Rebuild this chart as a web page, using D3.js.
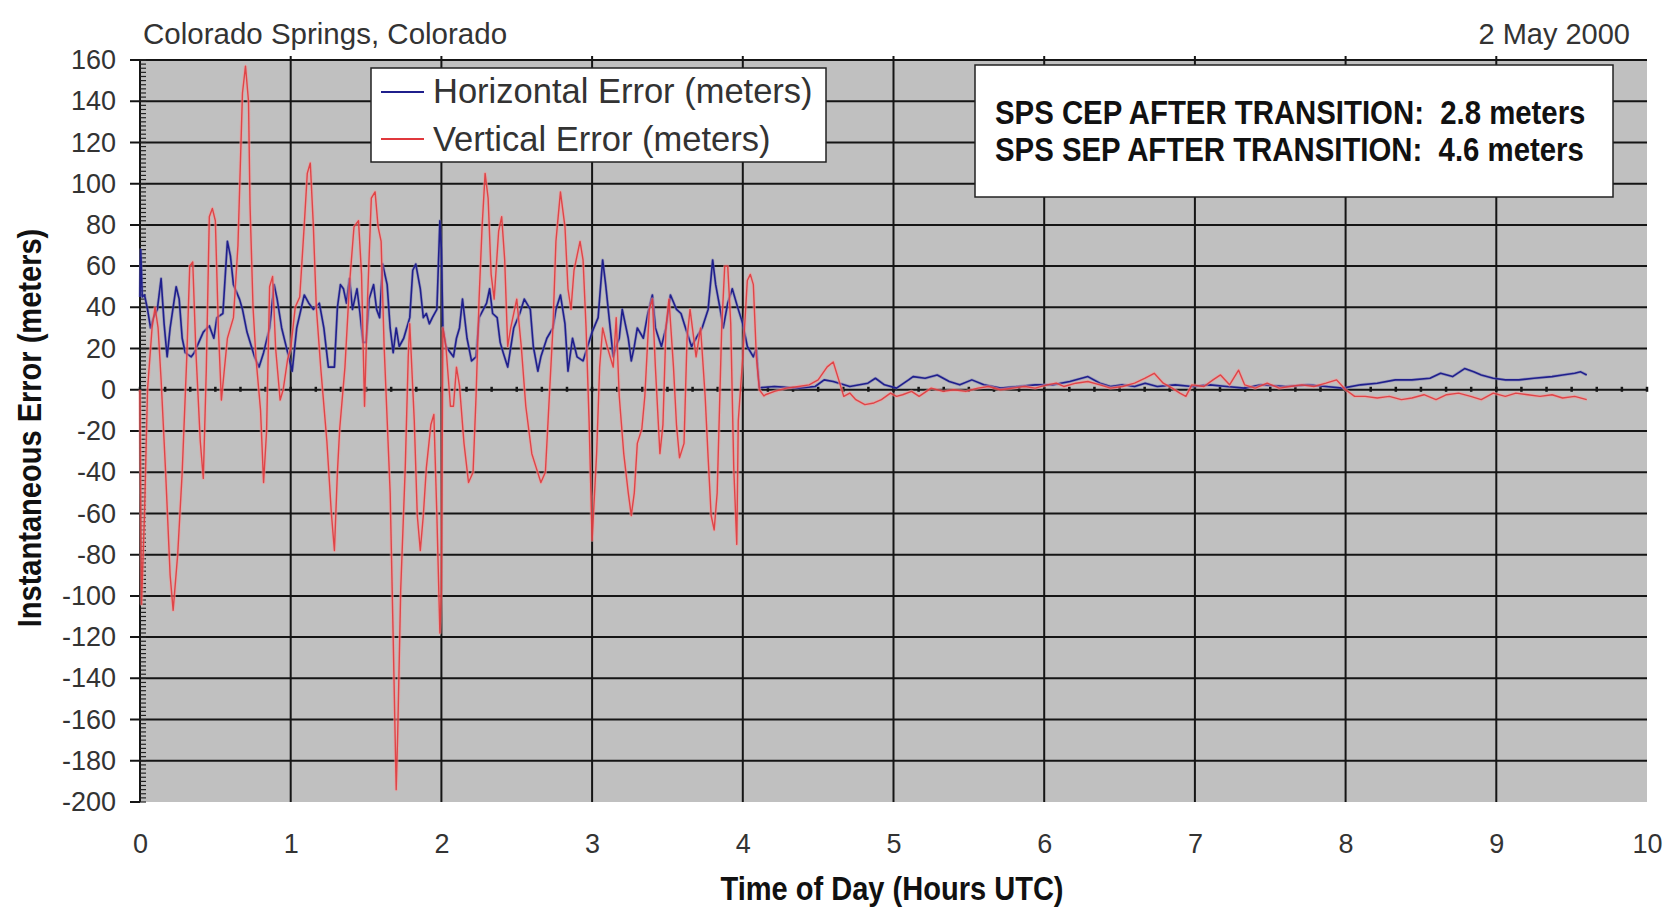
<!DOCTYPE html>
<html>
<head>
<meta charset="utf-8">
<script src="https://cdn.jsdelivr.net/npm/d3@7"></script>
<style>
  body { margin: 0; background: #fff; }
  svg { display: block; }
  text { font-family: "Liberation Sans", Arial, sans-serif; fill: #333; }
  .narrow { font-weight: bold; fill: #111; }
</style>
</head>
<body>
<div id="chart"></div>
<script>
// tick values
const hours = [0, 1, 2, 3, 4, 5, 6, 7, 8, 9, 10];
const errTicks = [160, 140, 120, 100, 80, 60, 40, 20, 0, -20, -40, -60, -80, -100, -120, -140, -160, -180, -200];

// [hour UTC, meters] - horizontal error (blue)
const horizontal = [
  [0, 45], [0.005, 68], [0.015, 45], [0.03, 46], [0.05, 39], [0.07, 30], [0.09, 35], [0.115, 39], [0.14, 54],
  [0.16, 32], [0.18, 16], [0.20, 30], [0.24, 50], [0.26, 44], [0.28, 25], [0.30, 18], [0.34, 16], [0.36, 18],
  [0.39, 23], [0.42, 28], [0.46, 31], [0.49, 25], [0.51, 35], [0.55, 37], [0.58, 72], [0.60, 65], [0.62, 51],
  [0.66, 44], [0.68, 39], [0.71, 28], [0.76, 16], [0.79, 11], [0.82, 18], [0.86, 30], [0.89, 51], [0.91, 44],
  [0.94, 30], [0.98, 18], [1.01, 9], [1.04, 30], [1.09, 46], [1.12, 42], [1.15, 39], [1.19, 42], [1.22, 30],
  [1.25, 11], [1.29, 11], [1.31, 40], [1.33, 51], [1.35, 49], [1.37, 42], [1.39, 54], [1.41, 39], [1.44, 49],
  [1.46, 37], [1.48, 23], [1.50, 23], [1.52, 44], [1.55, 51], [1.57, 39], [1.59, 35], [1.61, 61], [1.64, 51],
  [1.66, 30], [1.68, 18], [1.70, 30], [1.72, 21], [1.75, 25], [1.77, 30], [1.79, 35], [1.81, 58], [1.83, 61],
  [1.86, 49], [1.88, 35], [1.90, 37], [1.92, 32], [1.94, 35], [1.97, 39], [1.99, 82], [2.0, 68], [2.01, 30],
  [2.03, 21], [2.06, 18], [2.08, 16], [2.10, 25], [2.12, 30], [2.14, 44], [2.17, 25], [2.20, 14], [2.23, 16],
  [2.25, 35], [2.30, 42], [2.32, 49], [2.34, 37], [2.37, 35], [2.39, 23], [2.41, 18], [2.44, 11], [2.48, 30],
  [2.52, 37], [2.55, 44], [2.59, 39], [2.61, 21], [2.64, 9], [2.66, 16], [2.70, 25], [2.74, 30], [2.76, 39],
  [2.79, 46], [2.82, 32], [2.84, 9], [2.87, 25], [2.90, 16], [2.94, 14], [2.97, 21], [3.0, 28], [3.04, 35],
  [3.07, 63], [3.09, 51], [3.12, 30], [3.14, 16], [3.16, 21], [3.18, 25], [3.20, 39], [3.24, 25], [3.26, 14],
  [3.28, 21], [3.30, 30], [3.34, 25], [3.37, 37], [3.40, 46], [3.42, 30], [3.46, 21], [3.49, 30], [3.52, 46],
  [3.56, 39], [3.59, 37], [3.62, 30], [3.66, 21], [3.69, 25], [3.73, 30], [3.77, 39], [3.80, 63], [3.82, 51],
  [3.85, 39], [3.87, 30], [3.90, 42], [3.93, 49], [3.97, 39], [4.0, 32], [4.03, 21], [4.07, 16], [4.09, 20],
  [4.10, 9], [4.11, 1],
  [4.21, 1.6], [4.37, 0.8], [4.48, 1.6], [4.54, 4.8], [4.60, 4.0], [4.71, 1.6], [4.83, 3.2], [4.88, 5.6],
  [4.94, 2.4], [5.02, 0.8], [5.10, 4.8], [5.13, 6.4], [5.21, 5.6], [5.29, 7.2], [5.37, 4.0], [5.44, 2.4],
  [5.52, 4.8], [5.60, 2.4], [5.71, 0.8], [5.83, 1.6], [5.94, 2.4], [6.06, 2.4], [6.17, 4.0], [6.29, 6.4],
  [6.37, 3.2], [6.44, 1.6], [6.52, 2.4], [6.60, 1.6], [6.67, 3.2], [6.75, 1.6], [6.87, 2.4], [6.98, 1.6],
  [7.10, 2.4], [7.21, 1.6], [7.33, 0.8], [7.44, 2.4], [7.60, 1.6], [7.75, 2.4], [7.87, 1.6], [7.98, 0.8],
  [8.10, 2.4], [8.21, 3.2], [8.33, 4.8], [8.44, 4.8], [8.56, 5.6], [8.63, 8.0], [8.71, 6.4], [8.79, 10.3],
  [8.85, 8.7], [8.90, 7.2], [8.98, 5.6], [9.06, 4.8], [9.15, 4.8], [9.25, 5.6], [9.37, 6.4], [9.44, 7.2],
  [9.52, 8.0], [9.56, 8.7], [9.60, 7.2]
];

// [hour UTC, meters] - vertical error (red)
const vertical = [
  [0, 0], [0.01, -104], [0.03, -60], [0.05, 0], [0.08, 30], [0.10, 40], [0.12, 30], [0.14, 5], [0.17, -40],
  [0.20, -90], [0.22, -107], [0.25, -80], [0.28, -40], [0.31, 15], [0.33, 60], [0.35, 62], [0.37, 20],
  [0.40, -25], [0.42, -43], [0.44, 10], [0.46, 84], [0.48, 88], [0.50, 82], [0.52, 30], [0.54, -5], [0.56, 10],
  [0.58, 25], [0.62, 35], [0.65, 70], [0.68, 144], [0.70, 157], [0.72, 140], [0.73, 90], [0.75, 40],
  [0.77, 15], [0.80, -10], [0.82, -45], [0.84, -20], [0.86, 50], [0.88, 55], [0.90, 20], [0.93, -5], [0.95, 0],
  [0.98, 15], [1.00, 20], [1.03, 40], [1.06, 45], [1.09, 80], [1.11, 105], [1.13, 110], [1.15, 80], [1.17, 40],
  [1.20, 10], [1.24, -25], [1.27, -60], [1.29, -78], [1.31, -40], [1.325, -19], [1.36, 11], [1.39, 51],
  [1.42, 79], [1.45, 82], [1.47, 56], [1.49, -8], [1.51, 44], [1.535, 93], [1.56, 96], [1.58, 79], [1.60, 72],
  [1.62, 21], [1.66, -50], [1.68, -120], [1.70, -194], [1.71, -167], [1.73, -97], [1.76, -38], [1.78, 16],
  [1.79, 32], [1.82, -15], [1.84, -61], [1.86, -78], [1.88, -61], [1.90, -38], [1.93, -17], [1.95, -12],
  [1.97, -61], [1.99, -118], [2.0, -97], [2.01, 30], [2.03, 21], [2.06, -8], [2.08, -8], [2.10, 11], [2.12, 2],
  [2.15, -26], [2.18, -45], [2.21, -40], [2.23, -3], [2.25, 44], [2.27, 79], [2.29, 105], [2.31, 93],
  [2.33, 56], [2.35, 44], [2.38, 77], [2.40, 84], [2.42, 63], [2.44, 21], [2.46, 30], [2.50, 44], [2.53, 21],
  [2.56, -8], [2.60, -31], [2.63, -38], [2.66, -45], [2.69, -40], [2.71, -12], [2.74, 30], [2.76, 72],
  [2.79, 96], [2.82, 79], [2.84, 49], [2.86, 39], [2.88, 58], [2.92, 72], [2.94, 63], [2.96, 30], [2.98, -15],
  [3.0, -73], [3.03, -31], [3.05, 11], [3.07, 30], [3.10, 21], [3.14, 11], [3.16, 35], [3.18, -3], [3.21, -31],
  [3.24, -50], [3.26, -61], [3.28, -50], [3.30, -26], [3.33, -19], [3.35, -3], [3.38, 39], [3.40, 44],
  [3.42, 11], [3.45, -31], [3.47, -17], [3.49, 30], [3.51, 44], [3.54, 11], [3.56, -17], [3.58, -33],
  [3.61, -26], [3.63, 25], [3.65, 39], [3.69, 16], [3.72, 30], [3.75, -3], [3.77, -33], [3.79, -61],
  [3.81, -68], [3.83, -50], [3.86, 30], [3.88, 60], [3.90, 60], [3.92, 32], [3.94, -38], [3.96, -75],
  [3.97, -15], [4.0, 16], [4.03, 53], [4.05, 56], [4.07, 51], [4.09, 16], [4.11, 0], [4.14, -3],
  [4.15, -2.4], [4.21, -0.8], [4.29, 0.8], [4.37, 1.6], [4.44, 2.4], [4.50, 4.8], [4.56, 11.1], [4.60, 13.5],
  [4.63, 6.4], [4.67, -3.2], [4.71, -1.6], [4.75, -4.8], [4.81, -7.2], [4.87, -6.4], [4.92, -4.8], [4.98, -1.6],
  [5.02, -3.2], [5.06, -2.4], [5.12, -0.8], [5.17, -3.2], [5.25, 0.8], [5.33, -0.8], [5.40, 0], [5.48, -0.8],
  [5.56, 0.8], [5.63, 1.6], [5.71, 0], [5.79, 0.8], [5.87, 1.6], [5.94, 0.8], [6.02, 2.4], [6.08, 3.2],
  [6.13, 1.6], [6.21, 3.2], [6.29, 4.0], [6.37, 2.4], [6.44, 0.8], [6.52, 1.6], [6.60, 3.2], [6.67, 5.6],
  [6.73, 8.0], [6.79, 3.2], [6.85, 0.8], [6.90, -1.6], [6.94, -3.2], [6.98, 2.4], [7.06, 1.6], [7.12, 4.8],
  [7.17, 7.2], [7.23, 2.4], [7.29, 9.5], [7.33, 2.4], [7.40, 0.8], [7.48, 3.2], [7.56, 0.8], [7.63, 1.6],
  [7.71, 2.4], [7.79, 1.6], [7.87, 3.2], [7.94, 4.8], [8.0, 0], [8.06, -3.2], [8.13, -3.2], [8.21, -4.0],
  [8.29, -3.2], [8.37, -4.8], [8.44, -4.0], [8.52, -2.4], [8.60, -4.8], [8.67, -2.4], [8.75, -1.6],
  [8.83, -3.2], [8.90, -4.8], [8.98, -1.6], [9.06, -3.2], [9.13, -1.6], [9.21, -2.4], [9.29, -3.2],
  [9.37, -2.4], [9.44, -4.0], [9.52, -3.2], [9.60, -4.8]
];

const seriesNames = ["Horizontal Error (meters)", "Vertical Error (meters)"];
const seriesColors = ["#1f1f8c", "#e0383c"];
const notes = ["SPS CEP AFTER TRANSITION:  2.8 meters", "SPS SEP AFTER TRANSITION:  4.6 meters"];

const width = 1665, height = 909;
const margin = { top: 60, left: 140, right: 18, bottom: 107 };

const svg = d3.select("#chart").append("svg")
  .attr("width", width)
  .attr("height", height);

const x = d3.scaleLinear().domain([0, 10]).range([margin.left, width - margin.right]);
const y = d3.scaleLinear().domain([-200, 160]).range([height - margin.bottom, margin.top]);

// plot area
svg.append("rect")
  .attr("x", x(0)).attr("y", y(160))
  .attr("width", x(10) - x(0)).attr("height", y(-200) - y(160))
  .attr("fill", "#c0c0c0");

// horizontal gridlines (with the outside tick)
svg.append("g").selectAll("line")
  .data(errTicks.filter(d => d > -200))
  .join("line")
  .attr("x1", x(0) - 10).attr("x2", x(10))
  .attr("y1", d => y(d)).attr("y2", d => y(d))
  .attr("stroke", "#151515").attr("stroke-width", 2);

// outside tick for -200
svg.append("line")
  .attr("x1", x(0) - 10).attr("x2", x(0))
  .attr("y1", y(-200)).attr("y2", y(-200))
  .attr("stroke", "#151515").attr("stroke-width", 2);

// vertical gridlines
svg.append("g").selectAll("line")
  .data(hours.filter(d => d > 0 && d < 10))
  .join("line")
  .attr("x1", d => x(d)).attr("x2", d => x(d))
  .attr("y1", y(160) - 4).attr("y2", y(-200))
  .attr("stroke", "#151515").attr("stroke-width", 2);

// y axis line + minor ticks
svg.append("line")
  .attr("x1", x(0)).attr("x2", x(0))
  .attr("y1", y(160)).attr("y2", y(-200))
  .attr("stroke", "#151515").attr("stroke-width", 2);

svg.append("g").selectAll("line")
  .data(d3.range(-200, 161, 2))
  .join("line")
  .attr("x1", x(0)).attr("x2", x(0) + 6)
  .attr("y1", d => y(d)).attr("y2", d => y(d))
  .attr("stroke", "#222").attr("stroke-width", 1.2);

// x axis minor ticks on the zero line (every 10 minutes)
svg.append("g").selectAll("line")
  .data(d3.range(0, 61).map(i => i / 6))
  .join("line")
  .attr("x1", d => x(d)).attr("x2", d => x(d))
  .attr("y1", y(0) - 3).attr("y2", y(0) + 2)
  .attr("stroke", "#151515").attr("stroke-width", 2.5);

// data lines
const line = d3.line().x(d => x(d[0])).y(d => y(d[1]));

svg.append("path").datum(horizontal)
  .attr("fill", "none")
  .attr("stroke", "#7474b4").attr("stroke-width", 3).attr("stroke-opacity", 0.5)
  .attr("stroke-linejoin", "round")
  .attr("d", line);

svg.append("path").datum(horizontal)
  .attr("fill", "none")
  .attr("stroke", seriesColors[0]).attr("stroke-width", 1.6)
  .attr("stroke-linejoin", "round")
  .attr("d", line);

svg.append("path").datum(vertical)
  .attr("fill", "none")
  .attr("stroke", "#f39a9a").attr("stroke-width", 3.4).attr("stroke-opacity", 0.55)
  .attr("stroke-linejoin", "round")
  .attr("d", line);

svg.append("path").datum(vertical)
  .attr("fill", "none")
  .attr("stroke", seriesColors[1]).attr("stroke-width", 1.4).attr("stroke-opacity", 0.9)
  .attr("stroke-linejoin", "round")
  .attr("d", line);

// axis labels (plain hyphen for negatives, as in the picture)
const yAxis = d3.axisLeft(y).tickValues(errTicks).tickSize(0).tickPadding(24).tickFormat(d => String(d));
svg.append("g")
  .attr("transform", `translate(${x(0)},0)`)
  .call(yAxis)
  .call(g => g.select(".domain").remove())
  .selectAll("text")
  .style("font-family", "\"Liberation Sans\", Arial, sans-serif")
  .style("font-size", "27px")
  .attr("fill", "#333");

const xAxis = d3.axisBottom(x).tickValues(hours).tickSize(0).tickPadding(32).tickFormat(d => String(d));
svg.append("g")
  .attr("transform", `translate(0,${y(-200)})`)
  .call(xAxis)
  .call(g => g.select(".domain").remove())
  .selectAll("text")
  .style("font-family", "\"Liberation Sans\", Arial, sans-serif")
  .style("font-size", "27px")
  .attr("fill", "#333");

// titles
svg.append("text")
  .attr("x", 143).attr("y", 44)
  .style("font-size", "29.5px")
  .text("Colorado Springs, Colorado");

svg.append("text")
  .attr("x", 1630).attr("y", 44)
  .attr("text-anchor", "end")
  .style("font-size", "29px")
  .text("2 May 2000");

// condensed bold titles: squeeze horizontally
svg.append("text")
  .attr("class", "narrow")
  .attr("transform", "translate(892,900) scale(0.88,1)")
  .attr("text-anchor", "middle")
  .style("font-size", "33px")
  .text("Time of Day (Hours UTC)");

svg.append("text")
  .attr("class", "narrow")
  .attr("transform", "translate(41,428) rotate(-90) scale(0.88,1)")
  .attr("text-anchor", "middle")
  .style("font-size", "33px")
  .text("Instantaneous Error (meters)");

// legend
const legend = svg.append("g");
legend.append("rect")
  .attr("x", 371).attr("y", 68)
  .attr("width", 455).attr("height", 94)
  .attr("fill", "#fff").attr("stroke", "#222").attr("stroke-width", 1.5);

legend.selectAll("line.key")
  .data(seriesNames)
  .join("line")
  .attr("class", "key")
  .attr("x1", 381).attr("x2", 424)
  .attr("y1", (d, i) => 92 + i * 47).attr("y2", (d, i) => 92 + i * 47)
  .attr("stroke", (d, i) => seriesColors[i]).attr("stroke-width", 2);

legend.selectAll("text")
  .data(seriesNames)
  .join("text")
  .attr("x", 433)
  .attr("y", (d, i) => 103 + i * 48)
  .style("font-size", "34.5px")
  .text(d => d);

// note box
const note = svg.append("g");
note.append("rect")
  .attr("x", 975).attr("y", 65)
  .attr("width", 638).attr("height", 132)
  .attr("fill", "#fff").attr("stroke", "#222").attr("stroke-width", 1.5);

note.selectAll("text")
  .data(notes)
  .join("text")
  .attr("class", "narrow")
  .attr("transform", (d, i) => `translate(995,${124 + i * 37}) scale(0.89,1)`)
  .style("font-size", "33px")
  .style("white-space", "pre")
  .text(d => d);
</script>
</body>
</html>
